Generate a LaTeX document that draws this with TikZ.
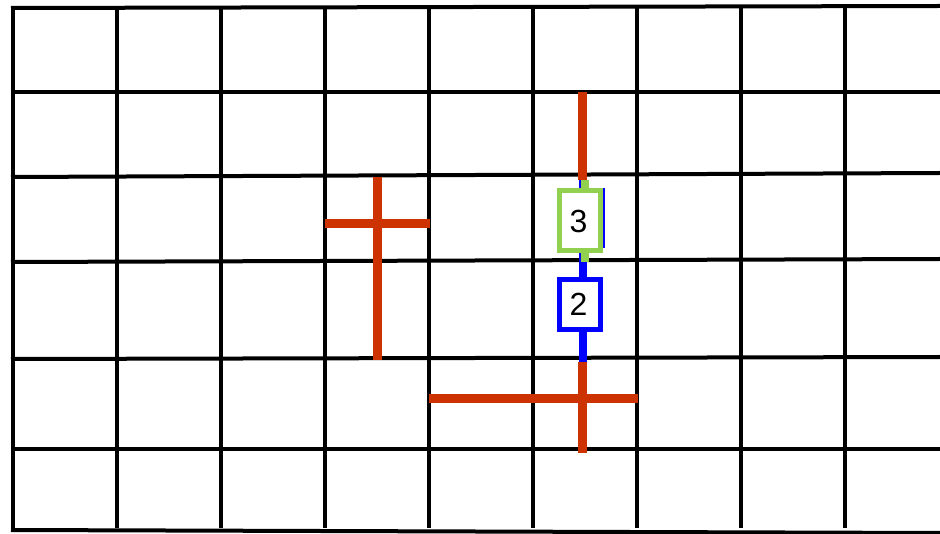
\documentclass[tikz,border=0pt]{standalone}
\usepackage{fontspec}
\setmainfont{Liberation Sans}
\definecolor{wirered}{HTML}{CC3300}
\definecolor{cellgreen}{HTML}{92D050}
\definecolor{cellblue}{HTML}{0000FF}

\begin{document}
\begin{tikzpicture}[x=1pt,y=-1pt,
    gridline/.style={line width=4pt,black},
    redwire/.style={line width=9pt,wirered},
    bluewire/.style={line width=8pt,cellblue},
    greenwire/.style={line width=8pt,cellgreen},
    cell/.style={draw,line width=5pt,fill=white,inner sep=0pt,minimum width=41pt,
      font=\fontsize{32}{32}\selectfont}]
    \useasboundingbox (0,0) rectangle (940,534);
    % grid
    \foreach \i in {0,...,8}
        \draw[gridline] ({13+104*\i},8) -- ({13+104*\i},528);
    \foreach \l/\r in {8/6,92/92,177/173,262/259,359/357,449/449,530/533}
        \draw[gridline] (11,\l) -- (940,\r);
    % crosses
    \draw[redwire] (377,177) -- (377,360);
    \draw[redwire] (325,224) -- (430,224);
    \draw[redwire] (429,399) -- (638,399);
    % column with the two cells
    \coordinate (top) at (582.5,92);
    \coordinate (upper) at (582.5,180);
    \coordinate (lower) at (582.5,362);
    \coordinate (bottom) at (582.5,453);
    \draw[bluewire] (upper) -- (lower);
    \node[cell,draw=cellblue,minimum height=55pt] (behind) at (581.5,218) {};
    \node[cell,draw=cellgreen,minimum height=60pt] (three) at (580,221) {\hspace*{-3pt}3};
    \node[cell,draw=cellblue,minimum height=50pt] (two) at (580,304.5) {\hspace*{-3pt}\raisebox{-4pt}{2}};
    \draw[redwire] (top) -- (upper);
    \draw[greenwire] ([xshift=2.5pt]upper) -- ([xshift=5pt]three.north);
    \draw[greenwire] ([xshift=5pt]three.south) -- ++(0,9);
    \draw[redwire] (lower) -- (bottom);
\end{tikzpicture}
\end{document}
